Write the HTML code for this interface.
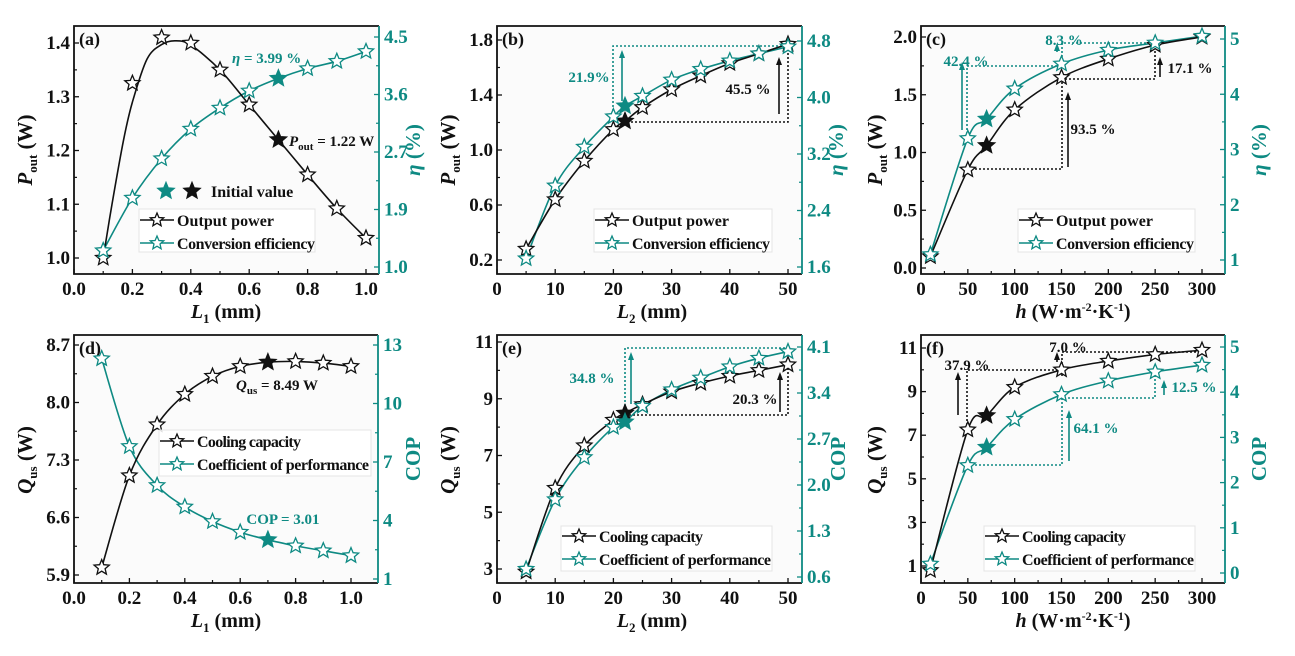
<!DOCTYPE html>
<html><head><meta charset="utf-8"><style>
html,body{margin:0;padding:0;background:#fff;}
svg{display:block;font-family:"Liberation Serif",serif;font-weight:bold;}
</style></head><body>
<svg id="s" width="1295" height="656" viewBox="0 0 1295 656" xmlns="http://www.w3.org/2000/svg"></svg>
<script>
const T='#0e8a83',K='#111';
const S=document.getElementById('s');let out='';
function star(x,y,r,col,fill){let p=[];for(let i=0;i<10;i++){const a=-Math.PI/2+i*Math.PI/5;const rr=i%2?r*0.45:r;p.push((x+rr*Math.cos(a)).toFixed(1)+','+(y+rr*Math.sin(a)).toFixed(1));}
return `<polygon points="${p.join(' ')}" fill="${fill?col:'#fff'}" stroke="${col}" stroke-width="1.3" stroke-linejoin="miter"/>`;}
function cr(pts){let d='M'+pts[0][0]+','+pts[0][1];for(let i=0;i<pts.length-1;i++){const p0=pts[i-1]||pts[i],p1=pts[i],p2=pts[i+1],p3=pts[i+2]||p2;
d+=` C${(p1[0]+(p2[0]-p0[0])/6).toFixed(1)},${(p1[1]+(p2[1]-p0[1])/6).toFixed(1)} ${(p2[0]-(p3[0]-p1[0])/6).toFixed(1)},${(p2[1]-(p3[1]-p1[1])/6).toFixed(1)} ${p2[0].toFixed(1)},${p2[1].toFixed(1)}`;}return d;}
function lin(a,pa,b,pb){return v=>pa+(v-a)*(pb-pa)/(b-a);}
function txt(x,y,s,o){o=o||{};return `<text x="${x}" y="${y}" font-size="${o.fs||18}" fill="${o.c||K}" text-anchor="${o.a||'middle'}"${o.tr?` transform="${o.tr}"`:''}${o.it?' font-style="italic"':''}>${s}</text>`;}
function dot(pts,col){return `<polyline points="${pts.map(p=>p.join(',')).join(' ')}" fill="none" stroke="${col}" stroke-width="1.6" stroke-dasharray="2,2"/>`;}
function arrow(x,y1,y2,col){return `<line x1="${x}" y1="${y1}" x2="${x}" y2="${y2+6}" stroke="${col}" stroke-width="1.6"/><polygon points="${x-3},${y2+8} ${x+3},${y2+8} ${x},${y2}" fill="${col}"/>`;}
function panel(P){
 const X=lin(P.xa,P.xpa,P.xb,P.xpb),YL=lin(P.la,P.lpa,P.lb,P.lpb),YR=lin(P.ra,P.rpa,P.rb,P.rpb);
 const [L,R,Tp,B]=P.box;
 out+=`<rect x="${L}" y="${Tp}" width="${R-L}" height="${B-Tp}" fill="#fbfbfb" stroke="none"/>`;
 P.xt.forEach((v,i)=>{const x=X(v);out+=`<line x1="${x}" y1="${B}" x2="${x}" y2="${B-5}" stroke="${K}" stroke-width="1.3"/>`;out+=txt(x,B+21,P.xl[i],{fs:19});
   if(i<P.xt.length-1){const xm=X((v+P.xt[i+1])/2);out+=`<line x1="${xm}" y1="${B}" x2="${xm}" y2="${B-3}" stroke="${K}" stroke-width="1.2"/>`;}});
 P.lt.forEach((v,i)=>{const y=YL(v);out+=`<line x1="${L}" y1="${y}" x2="${L+5}" y2="${y}" stroke="${K}" stroke-width="1.3"/>`;out+=txt(L-4,y+6,P.ll[i],{a:'end',fs:19});
   if(i<P.lt.length-1){const ym=YL((v+P.lt[i+1])/2);out+=`<line x1="${L}" y1="${ym}" x2="${L+3}" y2="${ym}" stroke="${K}" stroke-width="1.2"/>`;}});
 P.rt.forEach((v,i)=>{const y=YR(v);out+=`<line x1="${R}" y1="${y}" x2="${R-5}" y2="${y}" stroke="${T}" stroke-width="1.3"/>`;out+=txt(R+5,y+6,P.rl[i],{a:'start',c:T,fs:19});
   if(i<P.rt.length-1){const ym=YR((v+P.rt[i+1])/2);out+=`<line x1="${R}" y1="${ym}" x2="${R-3}" y2="${ym}" stroke="${T}" stroke-width="1.2"/>`;}});
 out+=`<polyline points="${R},${Tp} ${L},${Tp} ${L},${B} ${R},${B}" fill="none" stroke="${K}" stroke-width="1.8"/>`;
 out+=`<line x1="${R}" y1="${Tp}" x2="${R}" y2="${B}" stroke="${T}" stroke-width="1.8"/>`;
 out+=txt(L+5,Tp+19,P.lab,{a:'start',fs:18});
 out+=P.extraBack||'';
 const lp=(P.lline||P.ld).map(d=>[X(d[0]),YL(d[1])]);const rp=(P.rline||P.rd).map(d=>[X(d[0]),YR(d[1])]);
 out+=`<path d="${cr(rp)}" fill="none" stroke="${T}" stroke-width="1.6"/>`;
 out+=`<path d="${cr(lp)}" fill="none" stroke="${K}" stroke-width="1.6"/>`;
 P.ld.forEach(d=>out+=star(X(d[0]),YL(d[1]),d[2]?8.5:8,K,d[2]));
 P.rd.forEach(d=>out+=star(X(d[0]),YR(d[1]),d[2]?8.5:8,T,d[2]));
 out+=P.extra||'';
 const g=P.leg;out+=`<rect x="${g[0]}" y="${g[1]}" width="${g[2]-g[0]}" height="${g[3]-g[1]}" fill="#fff" fill-opacity="0.85" stroke="#e4e4e4"/>`;
 [[g[4],K,P.n1],[g[5],T,P.n2]].forEach(r=>{out+=`<line x1="${g[0]+1}" y1="${r[0]}" x2="${g[0]+35}" y2="${r[0]}" stroke="${r[1]}" stroke-width="1.6"/>`+star(g[0]+18,r[0],7,r[1],false)+`<text x="${g[0]+38}" y="${r[0]+6}" font-size="16" fill="${K}" textLength="${P.tl?P.tl[r[1]==K?0:1]:''}">${r[2]}</text>`;});
 out+=P.titles;
}
const xlab=(x,y,a)=>`<text x="${x}" y="${y}" font-size="20" text-anchor="middle" fill="${K}">${a}</text>`;
const ylabL=(x,y,s)=>`<text x="${x}" y="${y}" font-size="21" text-anchor="middle" fill="${K}" transform="rotate(-90 ${x} ${y})">${s}</text>`;
const ylabR=(x,y,s)=>`<text x="${x}" y="${y}" font-size="21" text-anchor="middle" fill="${T}" transform="rotate(-90 ${x} ${y})">${s}</text>`;
const Pout='<tspan font-style="italic">P</tspan><tspan font-size="13" dy="5">out</tspan><tspan dy="-5"> (W)</tspan>';
const Qus='<tspan font-style="italic">Q</tspan><tspan font-size="13" dy="5">us</tspan><tspan dy="-5"> (W)</tspan>';
const eta='<tspan font-style="italic">η</tspan> (%)';
const L1='<tspan font-style="italic">L</tspan><tspan font-size="13" dy="5">1</tspan><tspan dy="-5"> (mm)</tspan>';
const L2='<tspan font-style="italic">L</tspan><tspan font-size="13" dy="5">2</tspan><tspan dy="-5"> (mm)</tspan>';
const H='<tspan font-style="italic">h</tspan> (W·m<tspan font-size="12" dy="-7">-2</tspan><tspan dy="7">·K</tspan><tspan font-size="12" dy="-7">-1</tspan><tspan dy="7">)</tspan>';
const xa1=[0,.2,.4,.6,.8,1],xl1=['0.0','0.2','0.4','0.6','0.8','1.0'];
const xa2=[0,10,20,30,40,50],xl2=['0','10','20','30','40','50'];
const xa3=[0,50,100,150,200,250,300],xl3=['0','50','100','150','200','250','300'];
const TL1=[102,137],TL2=[102,172];
panel({box:[74,379,26,274],xa:0,xpa:74,xb:1,xpb:366,la:1,lpa:258,lb:1.4,lpb:43,ra:1,rpa:267,rb:4.5,rpb:37,
 xt:xa1,xl:xl1,lt:[1,1.1,1.2,1.3,1.4],ll:['1.0','1.1','1.2','1.3','1.4'],rt:[1,1.875,2.75,3.625,4.5],rl:['1.0','1.9','2.7','3.6','4.5'],lab:'(a)',tl:[97,138],
 ld:[[.1,1],[.2,1.325],[.3,1.41],[.4,1.4],[.5,1.35],[.6,1.285],[.7,1.22,1],[.8,1.155],[.9,1.092],[1,1.037]],
 lline:[[.1,1],[.13,1.1],[.17,1.22],[.2,1.29],[.25,1.37],[.3,1.397],[.345,1.404],[.4,1.396],[.5,1.35],[.6,1.285],[.7,1.22],[.8,1.155],[.9,1.092],[1,1.037]],
 rd:[[.1,1.25],[.2,2.05],[.3,2.65],[.4,3.1],[.5,3.42],[.6,3.68],[.7,3.87,1],[.8,4.02],[.9,4.13],[1,4.28]],
 leg:[139,209,315,252,220,243],n1:'Output power',n2:'Conversion efficiency',
 extra:star(166,191,8.5,T,true)+star(192,191,8.5,K,true)+txt(211,197,'Initial value',{a:'start',fs:16})+
  `<text x="289" y="146" font-size="15" fill="${K}"><tspan font-style="italic">P</tspan><tspan font-size="11" dy="4">out</tspan><tspan dy="-4"> = 1.22 W</tspan></text>`+
  `<text x="232" y="63" font-size="15" fill="${T}"><tspan font-style="italic">η</tspan> = 3.99 %</text>`,
 titles:xlab(226,318,L1)+ylabL(32,150,Pout)+ylabR(420,150,eta)});
panel({box:[497,802,26,274],xa:0,xpa:497,xb:50,xpb:788,la:.2,lpa:260,lb:1.8,lpb:40,ra:1.6,rpa:267,rb:4.8,rpb:41,
 xt:xa2,xl:xl2,lt:[.2,.6,1,1.4,1.8],ll:['0.2','0.6','1.0','1.4','1.8'],rt:[1.6,2.4,3.2,4,4.8],rl:['1.6','2.4','3.2','4.0','4.8'],lab:'(b)',tl:[97,138],
 ld:[[5,.28],[10,.64],[15,.92],[20,1.15],[22,1.21,1],[25,1.31],[30,1.44],[35,1.54],[40,1.63],[45,1.7],[50,1.77]],
 rd:[[5,1.72],[10,2.75],[15,3.3],[20,3.73],[22,3.88,1],[25,4.02],[30,4.25],[35,4.4],[40,4.52],[45,4.62],[50,4.72]],
 leg:[594,209,772,252,220,243],n1:'Output power',n2:'Conversion efficiency',
 extraBack:dot([[613,115],[613,46],[788,46],[788,50]],T)+dot([[627,122],[788,122],[788,43]],K),
 extra:arrow(622,101,50,T)+arrow(779,114,57,K)+txt(589,82,'21.9%',{c:T,fs:15})+txt(748,94,'45.5 %',{fs:15}),
 titles:xlab(652,318,L2)+ylabL(455,150,Pout)+ylabR(843,150,eta)});
panel({box:[921,1225,26,274],xa:0,xpa:921,xb:300,xpb:1202,la:0,lpa:268,lb:2,lpb:37,ra:1,rpa:260,rb:5,rpb:39,
 xt:xa3,xl:xl3,lt:[0,.5,1,1.5,2],ll:['0.0','0.5','1.0','1.5','2.0'],rt:[1,2,3,4,5],rl:['1','2','3','4','5'],lab:'(c)',tl:[97,138],
 ld:[[10,.1],[50,.85],[70,1.06,1],[100,1.37],[150,1.65],[200,1.81],[250,1.93],[300,2]],
 rd:[[10,1.1],[50,3.2],[70,3.55,1],[100,4.1],[150,4.55],[200,4.8],[250,4.93],[300,5.05]],
 leg:[1018,209,1195,252,220,243],n1:'Output power',n2:'Conversion efficiency',
 extraBack:dot([[967,138],[967,66],[1062,66],[1062,43],[1155,43],[1155,47]],T)+dot([[1062,66],[1062,70]],T)+dot([[967,169],[1062,169],[1062,79],[1155,79],[1155,47]],K),
 extra:arrow(962,130,62,T)+arrow(1057,52,43,T)+arrow(1068,167,92,K)+arrow(1160,77,57,K)+
  txt(966,66,'42.4 %',{c:T,fs:15})+txt(1064,45,'8.3 %',{c:T,fs:15})+txt(1093,134,'93.5 %',{fs:15})+txt(1190,73,'17.1 %',{fs:15}),
 titles:xlab(1073,318,H)+ylabL(882,150,Pout)+ylabR(1266,150,eta)});
panel({box:[74,378,335,583],xa:0,xpa:74,xb:1,xpb:351,la:5.9,lpa:575,lb:8.7,lpb:345,ra:1,rpa:579,rb:13,rpb:345,
 xt:xa1,xl:xl1,lt:[5.9,6.6,7.3,8,8.7],ll:['5.9','6.6','7.3','8.0','8.7'],rt:[1,4,7,10,13],rl:['1','4','7','10','13'],lab:'(d)',tl:[104,172],
 ld:[[.1,5.99],[.2,7.11],[.3,7.73],[.4,8.1],[.5,8.32],[.6,8.44],[.7,8.49,1],[.8,8.5],[.9,8.48],[1,8.44]],
 rd:[[.1,12.3],[.2,7.8],[.3,5.8],[.4,4.7],[.5,3.95],[.6,3.4],[.7,3.01,1],[.8,2.7],[.9,2.45],[1,2.2]],
 leg:[159,430,371,476,441,464],n1:'Cooling capacity',n2:'Coefficient of performance',
 extra:`<text x="236" y="390" font-size="15" fill="${K}"><tspan font-style="italic">Q</tspan><tspan font-size="11" dy="4">us</tspan><tspan dy="-4"> = 8.49 W</tspan></text>`+txt(283,524,'COP = 3.01',{c:T,fs:15}),
 titles:xlab(226,627,L1)+ylabL(32,460,Qus)+ylabR(420,459,'COP')});
panel({box:[497,802,335,583],xa:0,xpa:497,xb:50,xpb:788,la:3,lpa:569,lb:11,lpb:342,ra:.6,rpa:577,rb:4.1,rpb:347,
 xt:xa2,xl:xl2,lt:[3,5,7,9,11],ll:['3','5','7','9','11'],rt:[.6,1.3,2,2.7,3.4,4.1],rl:['0.6','1.3','2.0','2.7','3.4','4.1'],lab:'(e)',tl:[104,172],
 ld:[[5,2.9],[10,5.85],[15,7.35],[20,8.25],[22,8.49,1],[25,8.8],[30,9.25],[35,9.55],[40,9.8],[45,10],[50,10.2]],
 rd:[[5,.72],[10,1.78],[15,2.42],[20,2.88],[22,2.96,1],[25,3.2],[30,3.45],[35,3.63],[40,3.8],[45,3.93],[50,4.03]],
 leg:[561,526,772,571,536,559],n1:'Cooling capacity',n2:'Coefficient of performance',
 extraBack:dot([[625,414],[625,348],[788,348],[788,352]],T)+dot([[625,415],[788,415],[788,366]],K),
 extra:arrow(631,404,352,T)+arrow(780,412,372,K)+txt(592,383,'34.8 %',{c:T,fs:15})+txt(755,404,'20.3 %',{fs:15}),
 titles:xlab(652,627,L2)+ylabL(455,460,Qus)+ylabR(845,459,'COP')});
panel({box:[921,1225,335,583],xa:0,xpa:921,xb:300,xpb:1202,la:1,lpa:566,lb:11,lpb:348,ra:0,rpa:573,rb:5,rpb:347,
 xt:xa3,xl:xl3,lt:[1,3,5,7,9,11],ll:['1','3','5','7','9','11'],rt:[0,1,2,3,4,5],rl:['0','1','2','3','4','5'],lab:'(f)',tl:[104,172],
 ld:[[10,.8],[50,7.25],[70,7.9,1],[100,9.2],[150,10],[200,10.4],[250,10.7],[300,10.9]],
 rd:[[10,.2],[50,2.38],[70,2.78,1],[100,3.4],[150,3.95],[200,4.25],[250,4.45],[300,4.6]],
 leg:[984,526,1195,571,536,559],n1:'Cooling capacity',n2:'Coefficient of performance',
 extraBack:dot([[967,429],[967,370],[1062,370],[1062,352],[1202,352]],K)+dot([[1062,370],[1062,376]],K)+dot([[967,465],[1062,465],[1062,398],[1155,398],[1155,374]],T),
 extra:arrow(958,415,372,K)+arrow(1057,362,352,K)+arrow(1069,461,410,T)+arrow(1164,395,380,T)+
  txt(967,370,'37.9 %',{fs:15})+txt(1068,352,'7.0 %',{fs:15})+txt(1096,433,'64.1 %',{c:T,fs:15})+txt(1194,392,'12.5 %',{c:T,fs:15}),
 titles:xlab(1073,627,H)+ylabL(882,460,Qus)+ylabR(1266,459,'COP')});
S.innerHTML=out;
</script>
</body></html>
